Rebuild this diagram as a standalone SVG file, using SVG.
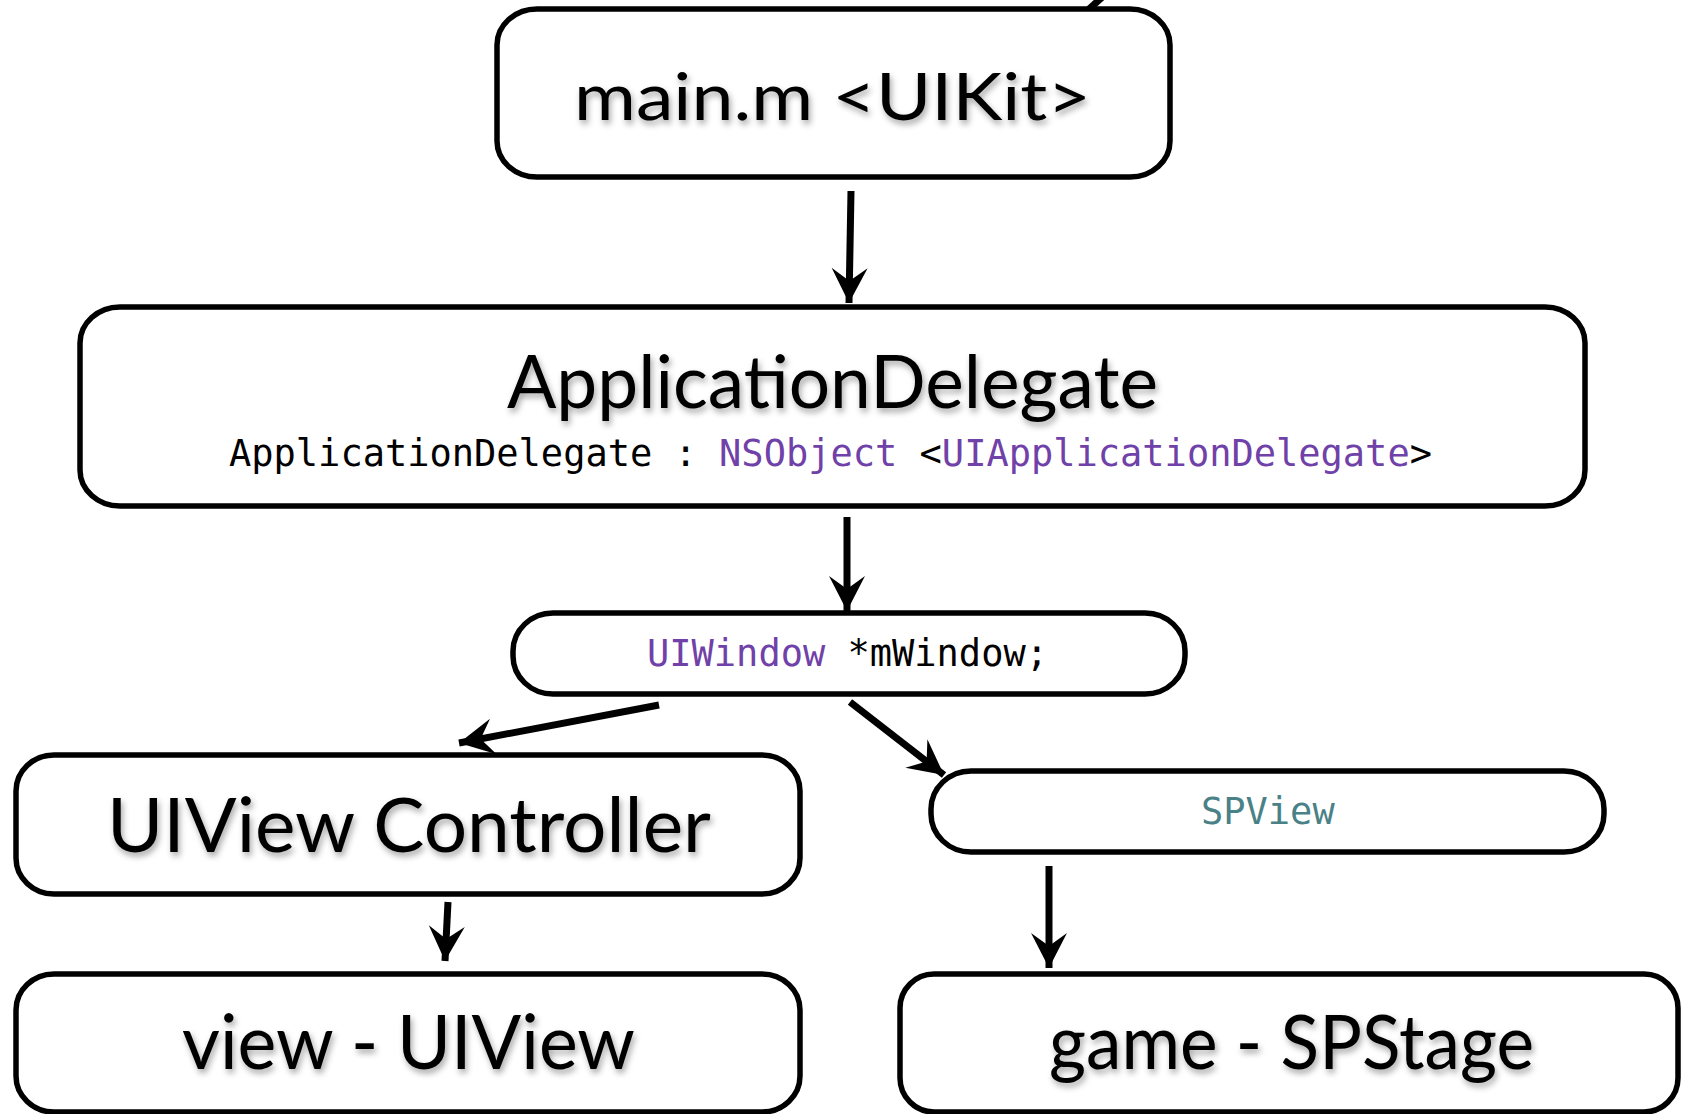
<svg xmlns="http://www.w3.org/2000/svg" width="1682" height="1114" viewBox="0 0 1682 1114">
<defs>
<style>
.box{fill:#fff;stroke:#000;stroke-width:5.5}
.title{font-family:Lato,"Open Sans","Liberation Sans",sans-serif;fill:#000;filter:url(#sh)}
.mono{font-family:"DejaVu Sans Mono","Liberation Mono",monospace;font-size:37px;fill:#000}
.p{fill:#7041A8}
.t{fill:#4A8187}
.con{stroke:#000;stroke-width:7;fill:none;marker-end:url(#ah)}
</style>
<filter id="sh" x="-10%" y="-30%" width="120%" height="160%">
<feDropShadow dx="2" dy="4" stdDeviation="3" flood-color="#000" flood-opacity="0.35"/>
</filter>
<marker id="ah" markerUnits="userSpaceOnUse" markerWidth="40" markerHeight="40" viewBox="-36 -20 40 40" refX="0" refY="0" orient="auto">
<path d="M0,0 L-35,-18 L-22,0 L-35,18 Z" fill="#000"/>
</marker>
</defs>
<g id="connectors">
<line x1="1110" y1="-10" x2="1088" y2="10" stroke="#000" stroke-width="7"/>
<line class="con" x1="851" y1="191" x2="849" y2="303"/>
<line class="con" x1="847" y1="517" x2="847" y2="611"/>
<line class="con" x1="659" y1="705" x2="459" y2="743"/>
<line class="con" x1="850" y1="702" x2="944" y2="775"/>
<line class="con" x1="448" y1="902" x2="445" y2="961"/>
<line class="con" x1="1049" y1="866" x2="1049" y2="968"/>
</g>
<g id="main">
<rect class="box" x="497" y="9" width="673" height="168" rx="40" ry="36"/>
<text class="title" x="574" y="120" font-size="66" textLength="517" lengthAdjust="spacingAndGlyphs">main.m &lt;UIKit&gt;</text>
</g>
<g id="appdelegate">
<rect class="box" x="80" y="307" width="1505" height="199" rx="40" ry="36"/>
<text class="title" x="507" y="408" font-size="74" textLength="651" lengthAdjust="spacingAndGlyphs">ApplicationDelegate</text>
<text class="mono" x="229" y="466">ApplicationDelegate : <tspan class="p">NSObject</tspan> &lt;<tspan class="p">UIApplicationDelegate</tspan>&gt;</text>
</g>
<g id="uiwindow">
<rect class="box" x="513" y="613" width="672" height="81" rx="40" ry="38"/>
<text class="mono" x="647" y="666"><tspan class="p">UIWindow</tspan> *mWindow;</text>
</g>
<g id="uiviewcontroller">
<rect class="box" x="16" y="755" width="784" height="139" rx="38" ry="36"/>
<text class="title" x="107" y="852" font-size="75" textLength="604" lengthAdjust="spacingAndGlyphs">UIView Controller</text>
</g>
<g id="spview">
<rect class="box" x="931" y="771" width="673" height="81" rx="40" ry="38"/>
<text class="mono t" x="1201" y="824">SPView</text>
</g>
<g id="view">
<rect class="box" x="16" y="974" width="784" height="138" rx="38" ry="36"/>
<text class="title" x="182" y="1069" font-size="75" textLength="453" lengthAdjust="spacingAndGlyphs">view - UIView</text>
</g>
<g id="game">
<rect class="box" x="900" y="974" width="778" height="138" rx="34" ry="34"/>
<text class="title" x="1049" y="1069" font-size="75" textLength="485" lengthAdjust="spacingAndGlyphs">game - SPStage</text>
</g>
</svg>
